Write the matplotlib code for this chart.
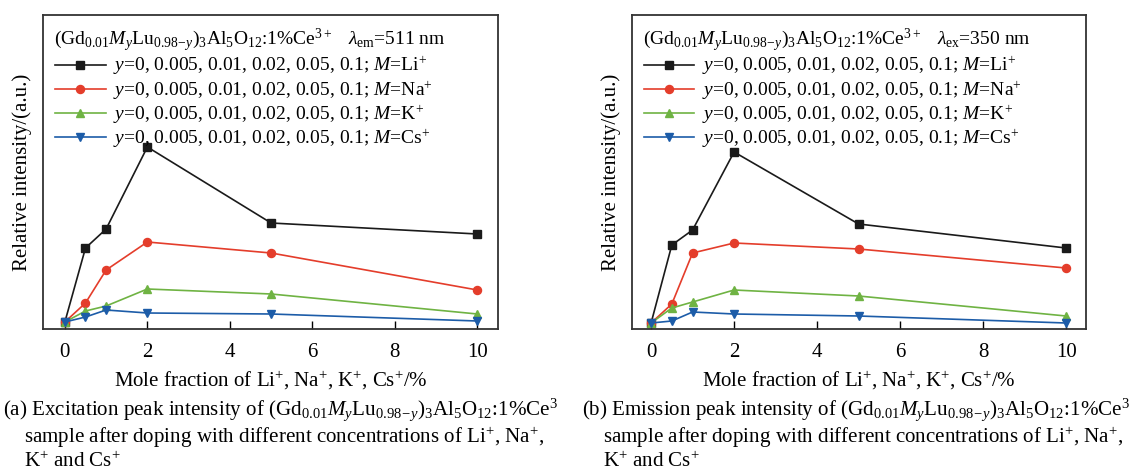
import matplotlib
matplotlib.use('Agg')
import matplotlib.pyplot as plt

plt.rcParams['font.family'] = ['Liberation Serif', 'DejaVu Serif']
plt.rcParams['mathtext.fontset'] = 'custom'
plt.rcParams['mathtext.rm'] = 'Liberation Serif'
plt.rcParams['mathtext.it'] = 'Liberation Serif:italic'
plt.rcParams['mathtext.bf'] = 'Liberation Serif:bold'

# mole fraction of dopant (%)
mole_frac = [0, 0.5, 1, 2, 5, 10]

# (a) excitation peak intensity, a.u.
exc_li = [7, 81, 100, 182, 106, 95]
exc_na = [7, 26, 59, 87, 76, 39]
exc_k = [7, 18, 23, 40, 35, 15]
exc_cs = [7, 12, 19, 16, 15, 8]

# (b) emission peak intensity, a.u.
em_li = [6, 84, 99, 177, 105, 81]
em_na = [6, 25, 76, 86, 80, 61]
em_k = [6, 21, 27, 39, 33, 13]
em_cs = [6, 8, 17, 15, 13, 6]

ions = ['Li', 'Na', 'K', 'Cs']
colors = ['#1a1a1a', '#e43d2b', '#6fb343', '#1c5ca8']
markers = ['s', 'o', '^', 'v']

formula = r'$(\mathrm{Gd}_{0.01}M_{y}\mathrm{Lu}_{0.98\!-\!y})_{3}\mathrm{Al}_{5}\mathrm{O}_{12}$:1%Ce$^{3+}$'
headers = [formula + r'   $\lambda_{\mathrm{em}}$=511 nm',
           formula + r'   $\lambda_{\mathrm{ex}}$=350 nm']
captions = [
    '(a) Excitation peak intensity of ' + r'$(\mathrm{Gd}_{0.01}M_{y}\mathrm{Lu}_{0.98\!-\!y})_{3}\mathrm{Al}_{5}\mathrm{O}_{12}$:1%Ce$^{3}$',
    '(b) Emission peak intensity of ' + r'$(\mathrm{Gd}_{0.01}M_{y}\mathrm{Lu}_{0.98\!-\!y})_{3}\mathrm{Al}_{5}\mathrm{O}_{12}$:1%Ce$^{3}$',
]
caption_2 = 'sample after doping with different concentrations of Li$^{+}$, Na$^{+}$,'
caption_3 = 'K$^{+}$ and Cs$^{+}$'

fig = plt.figure(figsize=(11.4, 4.75), dpi=100)
ax_a = fig.add_axes([43 / 1140, 1 - 329 / 475, 455 / 1140, 314 / 475])
ax_b = fig.add_axes([632 / 1140, 1 - 329 / 475, 454 / 1140, 314 / 475])

panels = [
    (ax_a, [exc_li, exc_na, exc_k, exc_cs], (-0.53, 10.5)),
    (ax_b, [em_li, em_na, em_k, em_cs], (-0.46, 10.48)),
]

for i, (ax, series, xlim) in enumerate(panels):
    for vals, ion, c, m in zip(series, ions, colors, markers):
        label = r'$y$=0, 0.005, 0.01, 0.02, 0.05, 0.1; $M$=' + ion + r'$^{+}$'
        ax.plot(mole_frac, vals, color=c, marker=m, markersize=5.8, lw=1.2, label=label)
    ax.set_xlim(*xlim)
    ax.set_ylim(0, 314)
    ax.set_xticks([0, 2, 4, 6, 8, 10])
    ax.set_yticks([])
    ax.tick_params(axis='x', direction='in', length=6, width=1, labelsize=15, pad=10)
    for s in ax.spines.values():
        s.set_linewidth(1.3)
        s.set_color('#333333')
    ax.set_xlabel('Mole fraction of Li$^{+}$, Na$^{+}$, K$^{+}$, Cs$^{+}$/%', fontsize=15, labelpad=5)
    ax.set_ylabel('Relative intensity/(a.u.)', fontsize=15, labelpad=8)
    ax.text(0.025, 0.92, headers[i], transform=ax.transAxes, fontsize=14, va='center', ha='left')
    ax.legend(loc='upper left', bbox_to_anchor=(0.022, 0.88), frameon=False, fontsize=14,
              handlelength=2.6, handletextpad=0.4, labelspacing=0.08, borderaxespad=0,
              borderpad=0.1)

# captions under each panel
for x0, cap in zip([3 / 1140, 582 / 1140], captions):
    fig.text(x0, 1 - 410 / 475, cap, fontsize=15.1, va='center', ha='left')
    fig.text(x0 + 21 / 1140, 1 - 437 / 475, caption_2, fontsize=15.1, va='center', ha='left')
    fig.text(x0 + 21 / 1140, 1 - 462 / 475, caption_3, fontsize=15.1, va='center', ha='left')

fig.savefig('out.png', dpi=100)
